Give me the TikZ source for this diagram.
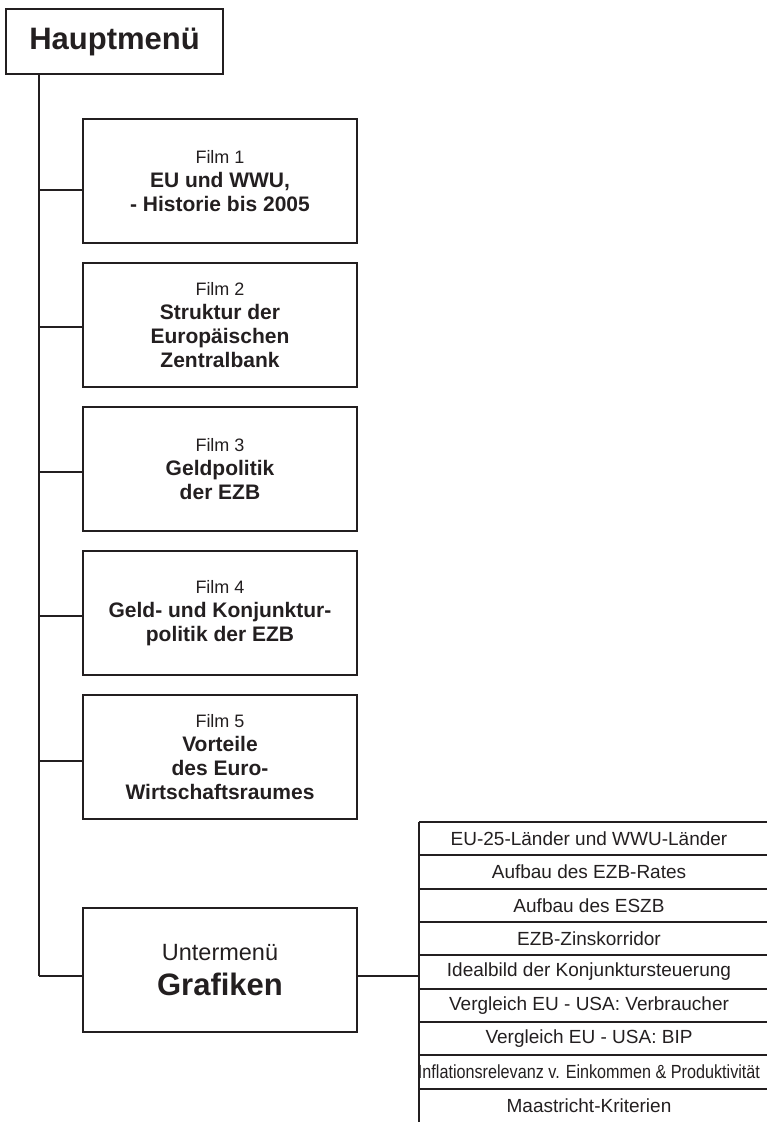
\documentclass[tikz,border=0pt]{standalone}
\usepackage{fontspec}
\usepackage{graphicx}
\setmainfont{Liberation Sans}
\usetikzlibrary{positioning}
\definecolor{ink}{RGB}{35,31,32}

\tikzset{
  menubox/.style={draw=ink, line width=2pt, text=ink, align=center, inner sep=0pt},
  filmbox/.style={menubox, minimum width=274pt, minimum height=124pt,
    font=\fontsize{21}{24}\selectfont\bfseries},
  rowtext/.style={text=ink, inner sep=0pt, font=\fontsize{19}{22}\selectfont},
  link/.style={draw=ink, line width=2pt}
}
\newcommand{\filmno}[1]{{\mdseries\fontsize{18}{24}\selectfont Film #1}}

\begin{document}
\begin{tikzpicture}[x=1pt, y=-1pt]
    \useasboundingbox (0,0) rectangle (767,1122);

    \node[menubox, minimum width=217pt, minimum height=65pt,
      font=\fontsize{31}{31}\selectfont\bfseries] (haupt) at (114.5,41.5) {Hauptmenü};

    \node[filmbox] (f1) at (220,181) {\filmno{1}\\EU und WWU,\\- Historie bis 2005};
    \node[filmbox] (f2) at (220,325) {\filmno{2}\\Struktur der\\Europäischen\\Zentralbank};
    \node[filmbox] (f3) at (220,469) {\filmno{3}\\Geldpolitik\\der EZB};
    \node[filmbox] (f4) at (220,613) {\filmno{4}\\Geld- und Konjunktur-\\politik der EZB};
    \node[filmbox] (f5) at (220,757) {\filmno{5}\\Vorteile\\des Euro-\\Wirtschaftsraumes};
    \node[menubox, minimum width=274pt, minimum height=124pt,
      font=\fontsize{31}{35}\selectfont] (graf) at (220,970)
      {{\fontsize{23.5}{35}\selectfont Untermenü}\\\textbf{Grafiken}};

    % where the branches meet the boxes
    \foreach \n/\s in {f1/-9, f2/-2, f3/-3, f4/-3, f5/-4, graf/-6}
      \coordinate (\n-in) at ([yshift=\s pt]\n.west);
    \coordinate (graf-out) at ([yshift=-6pt]graf.east);

    % trunk from the main menu down to the submenu
    \coordinate (trunk) at (39,0);
    \draw[link] (trunk |- haupt.south) -- (trunk |- graf-in);
    \foreach \n in {f1, f2, f3, f4, f5, graf}
      \draw[link] (trunk |- \n-in) -- (\n-in);

    % list of graphics
    \coordinate (listtop) at (419,822);
    \coordinate (listend) at (767,822);
    \coordinate (listfoot) at (419,1122);
    \draw[link] (listtop) -- (listfoot);
    \draw[link] (graf-out) -- (graf-out -| listtop);
    \foreach \t [count=\i] in {EU-25-Länder und WWU-Länder, Aufbau des EZB-Rates,
        Aufbau des ESZB, EZB-Zinskorridor, Idealbild der Konjunktursteuerung,
        Vergleich EU - USA: Verbraucher, Vergleich EU - USA: BIP,
        \resizebox{342pt}{\height}{Inflationsrelevanz v. Einkommen \& Produktivität},
        Maastricht-Kriterien} {
      \draw[link] ([yshift={-33.33*(\i-1)}]listtop) -- ([yshift={-33.33*(\i-1)}]listend);
      \node[rowtext] (row\i) at (589,{822+33.33*(\i-0.5)}) {\t};
    }
\end{tikzpicture}
\end{document}
